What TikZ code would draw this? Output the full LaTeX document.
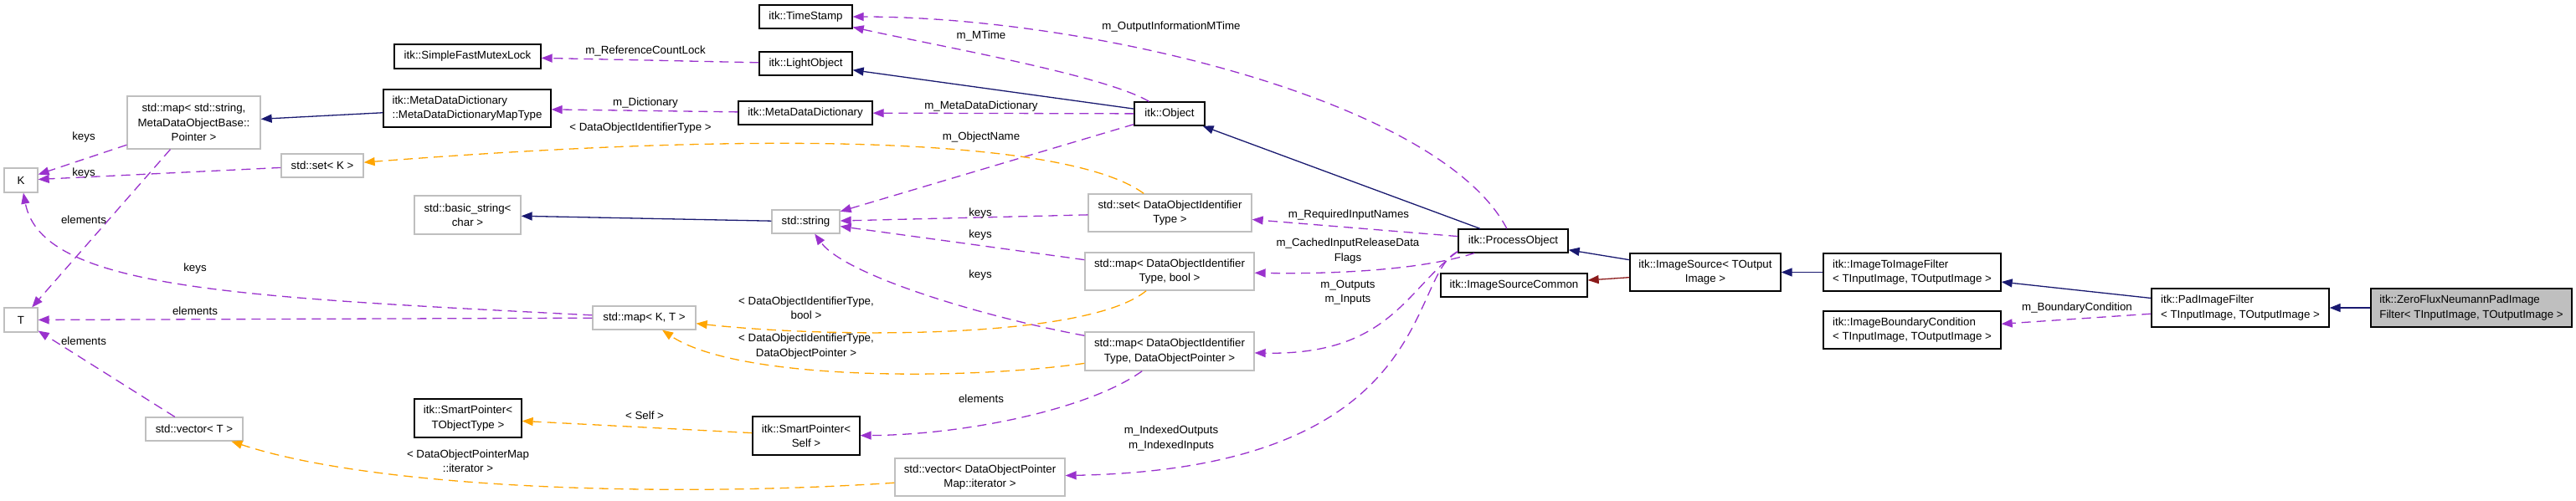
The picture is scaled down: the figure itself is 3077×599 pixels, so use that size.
\documentclass[tikz,border=0pt]{standalone}
\usepackage{fontspec}
\setmainfont{Liberation Sans}
\usetikzlibrary{arrows.meta}

\definecolor{inhblue}{RGB}{25,25,112}
\definecolor{usepurple}{RGB}{154,50,205}
\definecolor{tplorange}{RGB}{255,165,0}
\definecolor{privred}{RGB}{139,26,26}
\definecolor{extgray}{RGB}{191,191,191}

\begin{document}
\begin{tikzpicture}[
    x=1pt, y=-1pt,
    every node/.style={font=\fontsize{13.3}{17.3}\selectfont, inner sep=0pt},
    box/.style={rectangle, draw=black, line width=1.3pt, fill=white, align=center},
    extbox/.style={box, draw=extgray},
    focusbox/.style={box, fill=extgray},
    lbl/.style={align=center},
    inh/.style={-{Triangle[length=13pt,width=10pt]}, draw=inhblue, line width=1.3pt},
    privinh/.style={inh, draw=privred},
    use/.style={-{Triangle[length=13pt,width=10pt]}, draw=usepurple, line width=1.3pt, dash pattern=on 11pt off 7pt},
    tpl/.style={use, draw=tplorange}
]
\useasboundingbox (0,0) rectangle (3077,599);

% ITK classes
\node[box, minimum width=111, minimum height=28] (ts) at (962.5,20) {itk::TimeStamp};
\node[box, minimum width=175, minimum height=29] (sfml) at (558.5,67.5) {itk::SimpleFastMutexLock};
\node[box, minimum width=111, minimum height=28] (lo) at (962.5,76) {itk::LightObject};
\node[box, align=left, minimum width=200, minimum height=45] (mdmt) at (558,129.5) {itk::MetaDataDictionary\\::MetaDataDictionaryMapType};
\node[box, minimum width=160, minimum height=28] (mdd) at (962,135) {itk::MetaDataDictionary};
\node[box, minimum width=84, minimum height=28] (obj) at (1397,136) {itk::Object};
\node[box, minimum width=131, minimum height=28] (po) at (1807.5,288) {itk::ProcessObject};
\node[box, minimum width=180, minimum height=45] (isrc) at (2037,325.5) {itk::ImageSource< TOutput\\Image >};
\node[box, minimum width=175, minimum height=28] (iscom) at (1808.5,341) {itk::ImageSourceCommon};
\node[box, align=left, minimum width=212, minimum height=45] (itif) at (2284,325.5) {itk::ImageToImageFilter\\< TInputImage, TOutputImage >};
\node[box, align=left, minimum width=212, minimum height=45] (ibc) at (2284,394.5) {itk::ImageBoundaryCondition\\< TInputImage, TOutputImage >};
\node[box, align=left, minimum width=212, minimum height=46] (pad) at (2676,368) {itk::PadImageFilter\\< TInputImage, TOutputImage >};
\node[focusbox, align=left, minimum width=240, minimum height=46] (zf) at (2952,368) {itk::ZeroFluxNeumannPadImage\\Filter< TInputImage, TOutputImage >};
\node[box, minimum width=128, minimum height=46] (spself) at (963,521) {itk::SmartPointer<\\Self >};
\node[box, minimum width=128, minimum height=46] (spobj) at (559,500) {itk::SmartPointer<\\TObjectType >};

% std classes
\node[extbox, minimum width=159, minimum height=63] (mapstr) at (231.5,146.5) {std::map< std::string,\\MetaDataObjectBase::\\Pointer >};
\node[extbox, minimum width=98, minimum height=28] (setk) at (385,198) {std::set< K >};
\node[extbox, minimum width=40, minimum height=29] (kk) at (25,215.5) {K};
\node[extbox, minimum width=127, minimum height=46] (bstr) at (558.5,257) {std::basic\_string<\\char >};
\node[extbox, minimum width=81, minimum height=28] (str) at (962.5,265) {std::string};
\node[extbox, minimum width=195, minimum height=45] (setdoit) at (1397.5,254.5) {std::set< DataObjectIdentifier\\Type >};
\node[extbox, minimum width=202, minimum height=45] (mapbool) at (1397,324.5) {std::map< DataObjectIdentifier\\Type, bool >};
\node[extbox, minimum width=202, minimum height=46] (mapdop) at (1397,420) {std::map< DataObjectIdentifier\\Type, DataObjectPointer >};
\node[extbox, minimum width=123, minimum height=28] (mapkt) at (769.5,380) {std::map< K, T >};
\node[extbox, minimum width=40, minimum height=29] (tt) at (25,382.5) {T};
\node[extbox, minimum width=116, minimum height=28] (vect) at (232,513) {std::vector< T >};
\node[extbox, minimum width=203, minimum height=45] (vecdop) at (1170.5,570.5) {std::vector< DataObjectPointer\\Map::iterator >};

% inheritance
\draw[inh] (mdmt) -- (mapstr);
\draw[inh] (obj) -- (lo);
\draw[inh] (str) -- (bstr);
\draw[inh] (po) -- (obj);
\draw[inh] (isrc) -- (po);
\draw[privinh] (isrc) -- (iscom);
\draw[inh] (itif) -- (isrc);
\draw[inh] (pad) -- (itif);
\draw[inh] (zf) -- (pad);

% members
\draw[use] (lo) -- (sfml) node[lbl] at (771,61) {m\_ReferenceCountLock};
\draw[use] (obj) .. controls (1320,90) and (1120,55) .. (ts) node[lbl] at (1172,43) {m\_MTime};
\draw[use] (po) .. controls (1720,120) and (1300,20) .. (ts) node[lbl] at (1399,32) {m\_OutputInformationMTime};
\draw[use] (mdd) -- (mdmt) node[lbl] at (771,123) {m\_Dictionary};
\draw[use] (obj) -- (mdd) node[lbl] at (1172,127) {m\_MetaDataDictionary};
\draw[use] (obj) -- (str) node[lbl] at (1172,164) {m\_ObjectName};
\draw[use] (setdoit) -- (str) node[lbl] at (1171,255) {keys};
\draw[use] (mapbool) -- (str) node[lbl] at (1171,281) {keys};
\draw[use] (mapdop) .. controls (1180,380) and (1010,330) .. (str) node[lbl] at (1171,329) {keys};
\draw[use] (po) -- (setdoit) node[lbl] at (1611,257) {m\_RequiredInputNames};
\draw[use] (po) .. controls (1700,322) and (1600,328) .. (mapbool) node[lbl] at (1610,300) {m\_CachedInputReleaseData\\Flags};
\draw[use] ([yshift=2pt]po.south west) .. controls (1680,345) and (1660,425) .. (mapdop) node[lbl] at (1610,350) {m\_Outputs\\m\_Inputs};
\draw[use] ([yshift=2pt]po.south west) .. controls (1680,330) and (1720,560) .. (vecdop) node[lbl] at (1399,524) {m\_IndexedOutputs\\m\_IndexedInputs};
\draw[use] (mapdop) .. controls (1300,490) and (1150,520) .. (spself) node[lbl] at (1172,477) {elements};
\draw[use] (mapstr) -- (kk) node[lbl] at (100,164) {keys};
\draw[use] (setk) -- (kk) node[lbl] at (100,207) {keys};
\draw[use] (mapstr) -- (tt) node[lbl] at (100,263) {elements};
\draw[use] (mapkt) .. controls (280,355) and (50,345) .. (kk) node[lbl] at (233,321) {keys};
\draw[use] (mapkt) -- (tt) node[lbl] at (233,372) {elements};
\draw[use] (vect) -- (tt) node[lbl] at (100,408) {elements};
\draw[use] (pad) -- (ibc) node[lbl] at (2481,368) {m\_BoundaryCondition};

% template instances
\draw[tpl] (setdoit) .. controls (1290,175) and (1000,150) .. (setk) node[lbl] at (765,153) {< DataObjectIdentifierType >};
\draw[tpl] (mapbool) .. controls (1300,405) and (1000,405) .. (mapkt) node[lbl] at (963,368) {< DataObjectIdentifierType,\\bool >};
\draw[tpl] (mapdop) .. controls (1150,455) and (880,455) .. (mapkt) node[lbl] at (963,414) {< DataObjectIdentifierType,\\DataObjectPointer >};
\draw[tpl] (spself) -- (spobj) node[lbl] at (770,497) {< Self >};
\draw[tpl] (vecdop) .. controls (800,595) and (450,585) .. (vect) node[lbl] at (559,551) {< DataObjectPointerMap\\::iterator >};

\end{tikzpicture}
\end{document}
